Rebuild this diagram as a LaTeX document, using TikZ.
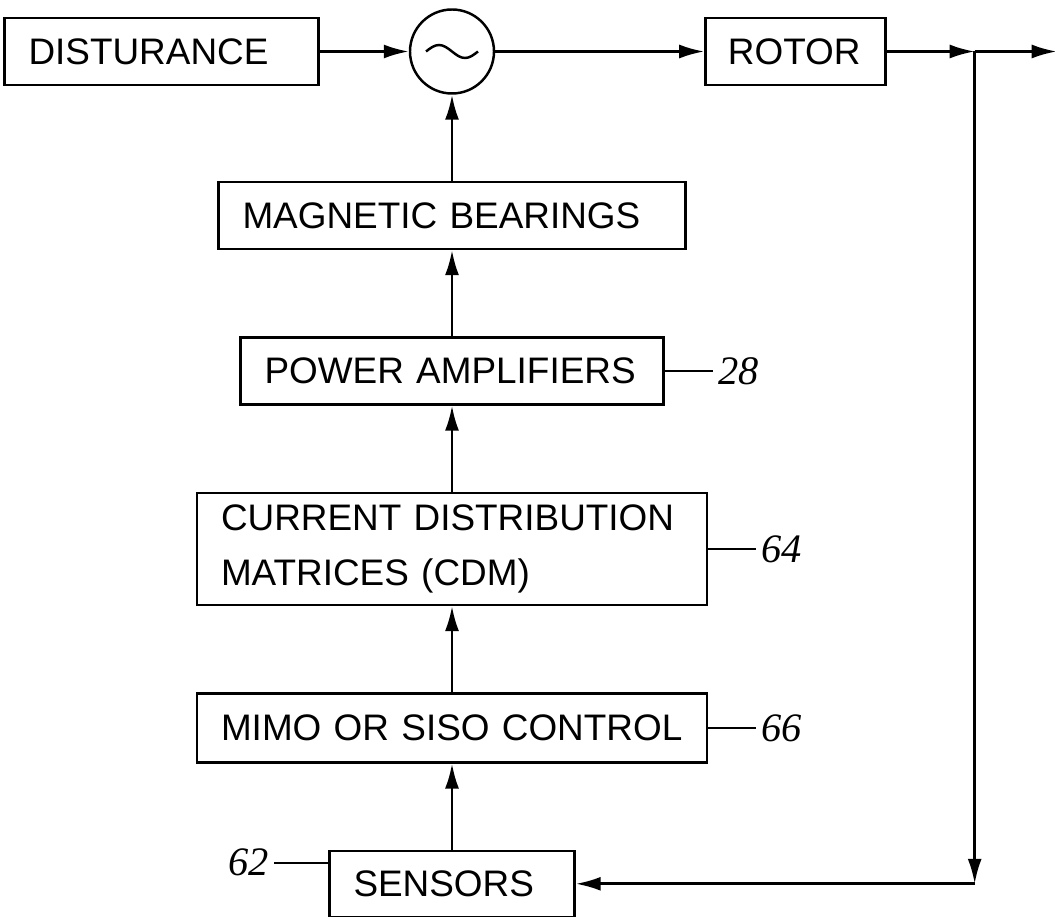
\documentclass[tikz,border=0pt]{standalone}
\usepackage{fontspec}
\setmainfont{Liberation Sans}
\newfontfamily\numfont{Liberation Serif}
\usetikzlibrary{arrows.meta, positioning}

\begin{document}
\begin{tikzpicture}[
    block/.style={draw, line width=1.4pt, align=left, inner xsep=0.48cm, inner ysep=0pt, minimum height=1.34cm, font=\fontsize{21}{31}\selectfont},
    sumnode/.style={draw, circle, line width=1.4pt, minimum size=1.68cm, inner sep=0pt},
    tag/.style={inner sep=0.1cm, font=\numfont\itshape\fontsize{23}{27}\selectfont},
    arrow/.style={-{Latex[length=0.5cm, width=0.28cm]}, line width=1.5pt},
    lead/.style={line width=0.9pt},
    node distance=1.72cm
]
    \useasboundingbox (0,0) rectangle (21.1,-18.34);
    \node[sumnode] (sum) at (9.04,-1.03) {};
    \node[block, text width=5.32cm, left=1.78cm of sum] (dist) {DISTURANCE};
    \node[block, text width=2.7cm, inner xsep=0.45cm, right=4.18cm of sum] (rotor) {ROTOR};
    \node[block, text width=8.38cm, below=of sum] (bearings) {MAGNETIC BEARINGS};
    \node[block, text width=7.5cm, below=of bearings] (amps) {POWER AMPLIFIERS};
    \node[block, text width=9.24cm, minimum height=2.24cm, below=of amps] (cdm) {CURRENT DISTRIBUTION\\MATRICES (CDM)};
    \node[block, text width=9.24cm, minimum height=1.38cm, below=of cdm] (ctrl) {MIMO OR SISO CONTROL};
    \node[block, text width=3.94cm, minimum height=1.32cm, below=of ctrl] (sensors) {SENSORS};
    \coordinate[right=1.76cm of rotor] (split);
    \coordinate[right=1.64cm of split] (out);
    \coordinate (corner) at (split |- sensors);

    % reference numerals
    \node[tag, right=0.96cm of amps] (ampsnum) {28};
    \node[tag, right=0.96cm of cdm] (cdmnum) {64};
    \node[tag, right=0.96cm of ctrl] (ctrlnum) {66};
    \node[tag, left=1.08cm of sensors, yshift=0.42cm] (sensorsnum) {62};
    \draw[lead] (amps) -- (ampsnum);
    \draw[lead] (cdm) -- (cdmnum);
    \draw[lead] (ctrl) -- (ctrlnum);
    \draw[lead] (sensorsnum.east) -- (sensorsnum.east -| sensors.west);

    % tilde in the summing circle
    \draw[line width=1.4pt] ([xshift=-0.52cm]sum.center) sin ++(0.26cm,0.13cm) cos ++(0.26cm,-0.13cm) sin ++(0.26cm,-0.13cm) cos ++(0.26cm,0.13cm);

    \draw[arrow] (dist) -- (sum);
    \draw[arrow] (sum) -- (rotor);
    \draw[arrow] (rotor) -- (split);
    \draw[arrow] (split) -- (out);
    \draw[arrow] (split) -- (corner);
    \draw[arrow] (corner) -- (sensors);
    \draw[arrow] (sensors) -- (ctrl);
    \draw[arrow] (ctrl) -- (cdm);
    \draw[arrow] (cdm) -- (amps);
    \draw[arrow] (amps) -- (bearings);
    \draw[arrow] (bearings) -- (sum);
\end{tikzpicture}
\end{document}
